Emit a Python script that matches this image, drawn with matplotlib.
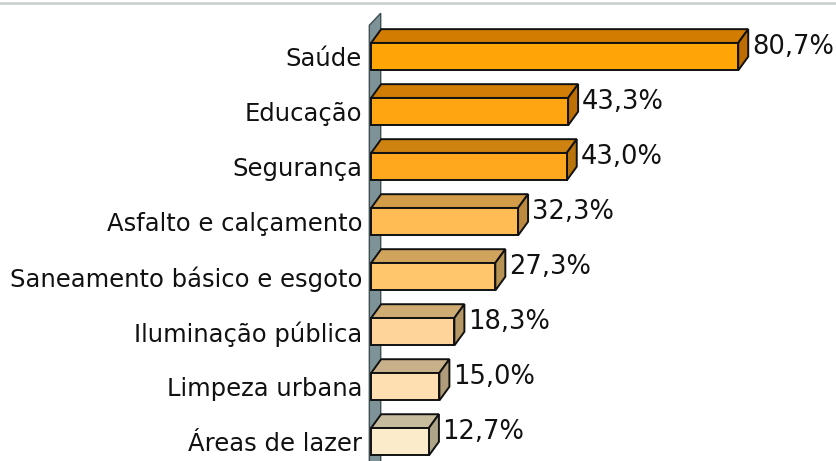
import matplotlib.pyplot as plt
from matplotlib.patches import Polygon

categorias = ['Saúde', 'Educação', 'Segurança', 'Asfalto e calçamento',
              'Saneamento básico e esgoto', 'Iluminação pública',
              'Limpeza urbana', 'Áreas de lazer']
valores = [80.7, 43.3, 43.0, 32.3, 27.3, 18.3, 15.0, 12.7]
rotulos = ['80,7%', '43,3%', '43,0%', '32,3%', '27,3%', '18,3%', '15,0%', '12,7%']

cor_frente = ['#FFA505', '#FFA512', '#FFA81E', '#FFBC55', '#FFC66C',
              '#FFD49A', '#FDDFB2', '#FCEBCB']
cor_topo = ['#D27C00', '#D27E06', '#CF8210', '#D29C48', '#D0A45C',
            '#CEAC74', '#C8B08A', '#C8BC9E']
cor_lado = ['#BE6E00', '#BE7004', '#BA740C', '#BC8A3E', '#B89252',
            '#B69866', '#B09C7A', '#AEA48A']

# profundidade do efeito 3D (em unidades dos eixos)
dx = 2.2
dy = 0.25
h = 0.5

fig = plt.figure(figsize=(8.36, 4.61), dpi=100)
ax = fig.add_axes([0, 0, 1, 1])
ax.set_xlim(-81.6, 102.2)
ax.set_ylim(7.35, -1.03)
ax.axis('off')

# parede do eixo
parede = Polygon([(-0.4, 7.4), (-0.4, -0.57), (-0.4 + dx + 0.3, -0.57 - 0.22),
                  (-0.4 + dx + 0.3, 7.4)], closed=True,
                 facecolor='#7E9398', edgecolor='#3E4E52', lw=1.0, clip_on=False)
ax.add_patch(parede)

for i, v in enumerate(valores):
    y0 = i - h / 2
    y1 = i + h / 2
    frente = Polygon([(0, y0), (v, y0), (v, y1), (0, y1)], closed=True,
                     facecolor=cor_frente[i], edgecolor='#111111', lw=1.4)
    topo = Polygon([(0, y0), (dx, y0 - dy), (v + dx, y0 - dy), (v, y0)], closed=True,
                   facecolor=cor_topo[i], edgecolor='#111111', lw=1.4)
    lado = Polygon([(v, y0), (v + dx, y0 - dy), (v + dx, y1 - dy), (v, y1)], closed=True,
                   facecolor=cor_lado[i], edgecolor='#111111', lw=1.4)
    for p in (topo, lado, frente):
        ax.add_patch(p)
    ax.text(v + dx + 0.8, i - 0.18, rotulos[i], fontsize=18.5, color='#111111',
            va='center', ha='left')
    ax.text(-2.0, i + 0.05, categorias[i], fontsize=17.5, color='#111111',
            va='center', ha='right')

# linha cinza no topo
ax.plot([-81.6, 102.2], [-0.97, -0.97], color='#C9CDCD', lw=1.8, clip_on=False)

fig.savefig('out.png', dpi=100)
